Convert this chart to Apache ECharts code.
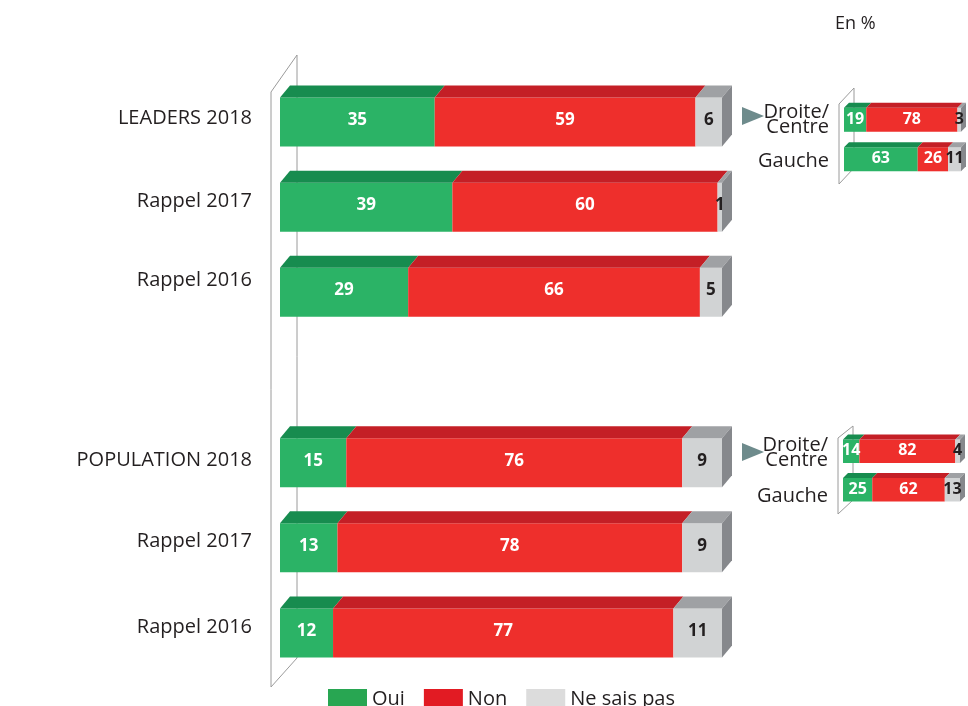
<!DOCTYPE html>
<html><head><meta charset="utf-8">
<script src="https://cdn.jsdelivr.net/npm/echarts@6/dist/echarts.min.js"></script>
<style>html,body{margin:0;padding:0;background:#fff}#c{width:968px;height:706px}</style>
</head><body><div id="c"></div>
<script>
// ---- data ----
const mainCategories = ['LEADERS 2018', 'Rappel 2017', 'Rappel 2016', '', 'POPULATION 2018', 'Rappel 2017', 'Rappel 2016'];
const mainOui = [35, 39, 29, null, 15, 13, 12];
const mainNon = [59, 60, 66, null, 76, 78, 77];
const mainNsp = [6, 1, 5, null, 9, 9, 11];
const subCategories = ['Droite/\nCentre', 'Gauche'];
const leadersSubOui = [19, 63];
const leadersSubNon = [78, 26];
const leadersSubNsp = [3, 11];
const popSubOui = [14, 25];
const popSubNon = [82, 62];
const popSubNsp = [4, 13];
const seriesNames = ['Oui', 'Non', 'Ne sais pas'];

// ---- styles ----
const FONT = 'Open Sans';
const front = ['#2bb366', '#ee2f2c', '#d1d3d4'];
const topC = ['#178c4f', '#c41f26', '#9fa1a4'];
const sideC = '#86888c';
const labelC = ['#ffffff', '#ffffff', '#231f20'];
const mainLabelShift = [-4, -5.5, -12, 0, -2, -7, -6];
const sub1LabelShift = [0, 2.5];
const sub2LabelShift = [1.5, 7];

function shiftPad(d) { return d < 0 ? [0, 0, -2 * d, 0] : [2 * d, 0, 0, 0]; }
function labelCfg(shifts, base) {
  const rich = {};
  shifts.forEach((d, i) => {
    rich['s' + i] = Object.assign({ padding: shiftPad(d) }, base);
  });
  return Object.assign({}, base, {
    rich: rich,
    formatter: function (value, index) {
      return value.split('\n').map(l => '{s' + index + '|' + l + '}').join('\n');
    }
  });
}

function buildData(oui, non, nsp, k) {
  const out = [];
  for (let i = 0; i < oui.length; i++) {
    if (oui[i] == null) continue;
    const vals = [oui[i], non[i], nsp[i]];
    let start = 0;
    for (let j = 0; j < k; j++) start += vals[j];
    out.push([start, start + vals[k], i, vals[k]]);
  }
  return out;
}

function renderer(k, ratio, dx, dy, fs, ty) {
  return function (params, api) {
    const s = api.value(0), e = api.value(1), c = api.value(2), v = api.value(3);
    const p0 = api.coord([s, c]);
    const p1 = api.coord([e, c]);
    const h = api.size([0, 1])[1] * ratio;
    const x0 = p0[0], x1 = p1[0];
    const yT = p0[1] - h / 2, yB = p0[1] + h / 2;
    const children = [
      { type: 'rect', shape: { x: x0, y: yT, width: x1 - x0, height: h }, style: { fill: front[k] } },
      { type: 'polygon', shape: { points: [[x0, yT], [x1, yT], [x1 + dx, yT - dy], [x0 + dx, yT - dy]] }, style: { fill: topC[k] } }
    ];
    if (k === 2) {
      children.push({ type: 'polygon', shape: { points: [[x1, yT], [x1 + dx, yT - dy], [x1 + dx, yB - dy], [x1, yB]] }, style: { fill: sideC } });
    }
    children.push({ type: 'text', z2: 10, style: { text: String(v), x: (x0 + x1) / 2, y: p0[1] + ty, align: 'center', verticalAlign: 'middle', fill: labelC[k], font: 'bold ' + fs + 'px "' + FONT + '"' } });
    return { type: 'group', children: children };
  };
}

const series = [];
const sets = [
  { oui: mainOui, non: mainNon, nsp: mainNsp, idx: 0, ratio: 0.575, dx: 10, dy: 12, fs: 17, ty: -2 },
  { oui: leadersSubOui, non: leadersSubNon, nsp: leadersSubNsp, idx: 1, ratio: 0.61, dx: 5, dy: 5, fs: 16, ty: -0.5 },
  { oui: popSubOui, non: popSubNon, nsp: popSubNsp, idx: 2, ratio: 0.61, dx: 5, dy: 5, fs: 16, ty: -0.5 }
];
sets.forEach(st => {
  for (let k = 0; k < 3; k++) {
    series.push({
      type: 'custom', name: seriesNames[k], xAxisIndex: st.idx, yAxisIndex: st.idx,
      itemStyle: { color: front[k] },
      renderItem: renderer(k, st.ratio, st.dx, st.dy, st.fs, st.ty),
      encode: { x: [0, 1], y: 2 },
      data: buildData(st.oui, st.non, st.nsp, k)
    });
  }
});

const xAx = i => ({ type: 'value', gridIndex: i, min: 0, max: 100, show: false });
const lineStyle = { stroke: '#9a9a9a', lineWidth: 1, fill: null };
const mainBase = { fontFamily: FONT, fontSize: 20, color: '#231f20' };
const subBase = { fontFamily: FONT, fontSize: 20, lineHeight: 15, color: '#231f20' };

const option = {
  animation: false,
  grid: [
    { left: 280, width: 442, top: 79.4, height: 596.2 },
    { left: 844, width: 117, top: 100, height: 79 },
    { left: 843, width: 117, top: 432, height: 77 }
  ],
  xAxis: [xAx(0), xAx(1), xAx(2)],
  yAxis: [
    { type: 'category', gridIndex: 0, inverse: true, data: mainCategories, axisLine: { show: false }, axisTick: { show: false },
      axisLabel: Object.assign({ margin: 28 }, labelCfg(mainLabelShift, mainBase)) },
    { type: 'category', gridIndex: 1, inverse: true, data: subCategories, axisLine: { show: false }, axisTick: { show: false },
      axisLabel: Object.assign({ margin: 15 }, labelCfg(sub1LabelShift, subBase)) },
    { type: 'category', gridIndex: 2, inverse: true, data: subCategories, axisLine: { show: false }, axisTick: { show: false },
      axisLabel: Object.assign({ margin: 15 }, labelCfg(sub2LabelShift, subBase)) }
  ],
  legend: {
    left: 323, top: 684, itemWidth: 39, itemHeight: 20, itemGap: 19, icon: 'rect',
    textStyle: { fontFamily: FONT, fontSize: 20, color: '#231f20' },
    data: [
      { name: 'Oui', itemStyle: { color: '#28a652' } },
      { name: 'Non', itemStyle: { color: '#e21b23' } },
      { name: 'Ne sais pas', itemStyle: { color: '#dcdcdc' } }
    ]
  },
  graphic: [
    { type: 'text', left: 835, top: 15, style: { text: 'En %', font: '18px "' + FONT + '"', fill: '#231f20' } },
    { type: 'polyline', z: -1, shape: { points: [[297, 658], [297, 55], [271, 92], [271, 687], [297, 658]] }, style: lineStyle },
    { type: 'polyline', z: -1, shape: { points: [[854, 168], [854, 88], [839, 104], [839, 184], [854, 168]] }, style: lineStyle },
    { type: 'polyline', z: -1, shape: { points: [[853, 500], [853, 426], [838, 438], [838, 514], [853, 500]] }, style: lineStyle },
    { type: 'polygon', shape: { points: [[742, 107], [764, 116], [742, 125]] }, style: { fill: '#6e8b8c' } },
    { type: 'polygon', shape: { points: [[742, 443], [764, 452], [742, 461]] }, style: { fill: '#6e8b8c' } }
  ],
  series: series
};
echarts.init(document.getElementById('c')).setOption(option);
</script></body></html>
